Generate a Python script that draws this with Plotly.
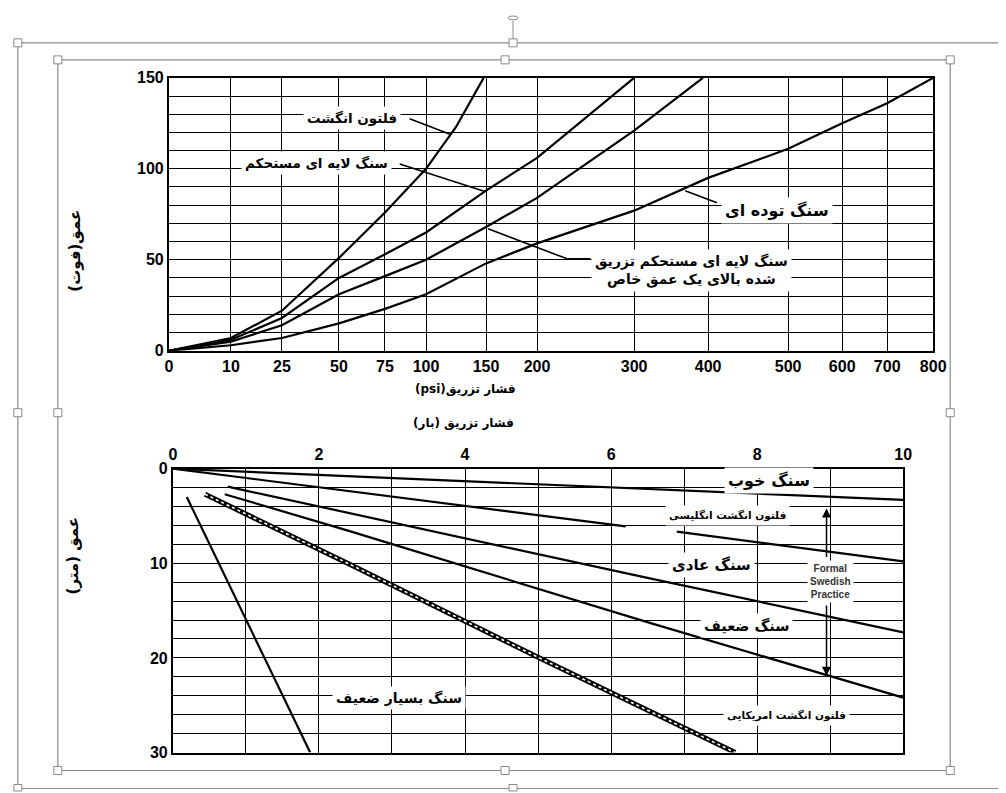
import numpy as np
import plotly.graph_objects as go

# figure size (the page adds an 8px body margin)
W, H = 1006, 792
OFF = 8
# measured mapping between page pixels and the photographed picture
SX, BX = 0.9827, 4.3
SY, BY = 0.979, 7.3

# ---------------- Top chart: depth (ft) vs injection pressure (psi) ----------------
# printed (non-uniform) pressure scale of the scanned chart
psi_ticks = [0, 10, 25, 50, 75, 100, 150, 200, 300, 400, 500, 600, 700, 800]
psi_tick_pos = [0, 62, 113, 170, 216, 257, 317, 368, 465, 539, 619, 673, 718, 764]

fenton_psi = [0, 10, 25, 50, 75, 100, 125, 148]
fenton_ft = [0, 7, 22, 51, 76, 100, 123, 150]

strat_psi = [0, 10, 25, 50, 75, 100, 150, 200, 300]
strat_ft = [0, 6, 18, 40, 53, 65, 88, 106, 150]

grouted_psi = [0, 10, 25, 50, 75, 100, 150, 200, 300, 393]
grouted_ft = [0, 5, 14, 31, 41, 50, 68, 84, 121, 150]

massive_psi = [0, 10, 25, 50, 75, 100, 150, 200, 300, 400, 500, 600, 700, 800]
massive_ft = [0, 3, 7, 15, 23, 31, 48, 59, 77, 95, 111, 125, 136, 150]

# ---------------- Bottom chart: depth (m) vs injection pressure (bar) ----------------
good_bar = [0, 10]
good_m = [0, 3.3]
fen_en_bar = [0, 6.2, None, 6.9, 10]
fen_en_m = [0, 6.1, None, 6.65, 9.8]
avg_bar = [0.75, 2.42, 6.53, 10]
avg_m = [1.9, 4.7, 11.6, 17.3]
poor_bar = [0.71, 2.42, 6.53, 10]
poor_m = [2.7, 6.6, 16.3, 24.2]
fen_us_bar = [0.44, 2.42, 5.07, 7.7]
fen_us_m = [2.7, 10.1, 20.2, 30]
vpoor_bar = [0.19, 1.88]
vpoor_m = [3.0, 30]


def to_pos(psi):
    return np.interp(psi, psi_ticks, psi_tick_pos)


FA = "DejaVu Sans"
FN = "Liberation Sans Narrow, Liberation Sans, Arial"
RLE, PDF = "\u202b", "\u202c"

fig = go.Figure()

line_style = dict(color="black", width=2.2)
for xs, ys in [(fenton_psi, fenton_ft), (strat_psi, strat_ft),
               (grouted_psi, grouted_ft), (massive_psi, massive_ft)]:
    fig.add_trace(go.Scatter(x=to_pos(xs), y=ys, mode="lines", line=line_style,
                             xaxis="x", yaxis="y", showlegend=False, hoverinfo="skip"))

for xs, ys in [(good_bar, good_m), (fen_en_bar, fen_en_m), (avg_bar, avg_m),
               (poor_bar, poor_m), (vpoor_bar, vpoor_m)]:
    fig.add_trace(go.Scatter(x=xs, y=ys, mode="lines", line=line_style,
                             xaxis="x2", yaxis="y2", showlegend=False, hoverinfo="skip"))
# hatched American Fenton line
fig.add_trace(go.Scatter(x=fen_us_bar, y=fen_us_m, mode="lines",
                         line=dict(color="black", width=5), xaxis="x2", yaxis="y2",
                         showlegend=False, hoverinfo="skip"))
fig.add_trace(go.Scatter(x=fen_us_bar, y=fen_us_m, mode="lines",
                         line=dict(color="white", width=1.6, dash="dot"), xaxis="x2", yaxis="y2",
                         showlegend=False, hoverinfo="skip"))

grid = dict(showgrid=True, gridcolor="black", gridwidth=1.2, zeroline=False,
            showline=True, linecolor="black", linewidth=2, mirror=True, ticks="")
tickfont = dict(family=FN, size=16, color="black", weight="bold")


def px(t):
    return min(max(((t - BX) / SX - OFF) / W, 0), 1)


def py(t):
    return min(max(1 - ((t - BY) / SY - OFF) / H, 0), 1)


fig.update_layout(
    width=W, height=H, margin=dict(l=0, r=0, t=0, b=0),
    paper_bgcolor="white", plot_bgcolor="white",
    xaxis=dict(domain=[px(169), px(933)], range=[0, 764], anchor="y",
               tickvals=psi_tick_pos, ticktext=[str(t) for t in psi_ticks],
               tickfont=tickfont, **grid),
    yaxis=dict(domain=[py(350), py(77)], range=[0, 150], anchor="x",
               tickvals=[0, 50, 100, 150], tickfont=tickfont,
               minor=dict(dtick=10, showgrid=True, gridcolor="black", gridwidth=1.2),
               **grid),
    xaxis2=dict(domain=[px(173), px(903)], range=[0, 10], anchor="y2", side="top",
                dtick=2, tickfont=tickfont,
                minor=dict(dtick=1, showgrid=True, gridcolor="black", gridwidth=1.2),
                **grid),
    yaxis2=dict(domain=[py(752), py(468)], range=[30, 0], anchor="x2",
                dtick=10, tickfont=tickfont,
                minor=dict(dtick=2, showgrid=True, gridcolor="black", gridwidth=1.2),
                **grid),
)

ann = []
shapes = []


def txt(text, x, y, size=13, xref="x", yref="y", bg="white", **kw):
    ann.append(dict(text=text, x=x, y=y, xref=xref, yref=yref, showarrow=False,
                    font=dict(family=FA, size=size, color="black", weight="bold"),
                    bgcolor=bg, borderpad=3, **kw))


def seg(x0, y0, x1, y1, xref="x", yref="y", color="black", width=1.6):
    shapes.append(dict(type="line", x0=x0, y0=y0, x1=x1, y1=y1, xref=xref, yref=yref,
                       line=dict(color=color, width=width), layer="above"))


# top chart labels and leaders
txt("فلتون انگشت", float(to_pos(57)), 128, size=13.5)
seg(float(to_pos(90)), 127.5, float(to_pos(120)), 119)
txt("سنگ لایه ای مستحکم", float(to_pos(40)), 103, size=13.5)
seg(float(to_pos(84)), 102.7, float(to_pos(149)), 87.5)
txt("سنگ توده ای", float(to_pos(486)), 77, size=16)
seg(float(to_pos(411)), 81.3, float(to_pos(369)), 88)
txt("سنگ لایه ای مستحکم تزریق<br>شده بالای یک عمق خاص", float(to_pos(378)), 44, size=14)
seg(float(to_pos(152)), 67, float(to_pos(231)), 50.5)
seg(float(to_pos(231)), 50.5, float(to_pos(255)), 50.5)

# bottom chart labels
txt("سنگ خوب", 8.16, 1.3, size=16, xref="x2", yref="y2")
txt("فلتون انگشت انگلیسی", 7.59, 4.96, size=10.5, xref="x2", yref="y2")
txt("سنگ عادی", 7.38, 10.2, size=15, xref="x2", yref="y2")
txt("سنگ ضعیف", 7.86, 16.6, size=14.5, xref="x2", yref="y2")
txt("فلتون انگشت امریکایی", 8.4, 26.1, size=10.5, xref="x2", yref="y2")
txt("سنگ بسیار ضعیف", 3.1, 24.2, size=14, xref="x2", yref="y2")
ann.append(dict(text="Formal<br>Swedish<br>Practice", x=9.0, y=11.9, xref="x2", yref="y2",
                showarrow=False, bgcolor="white", borderpad=2,
                font=dict(family="Liberation Sans", size=10, color="#333", weight="bold")))
for y0, y1 in [(9.5, 4.2), (14.3, 21.9)]:
    ann.append(dict(x=8.95, y=y1, ax=8.95, ay=y0, xref="x2", yref="y2", axref="x2", ayref="y2",
                    showarrow=True, arrowhead=2, arrowsize=1.2, arrowwidth=1.5,
                    arrowcolor="black", text=""))

# axis titles
txt(RLE + "فشار تزریق(psi)" + PDF, px(465), py(388), size=12, xref="paper", yref="paper", bg=None)
txt(RLE + "فشار تزریق (بار)" + PDF, px(463), py(422), size=12, xref="paper", yref="paper", bg=None)
txt(RLE + "عمق(فوت)" + PDF, px(62), py(205), size=15, xref="paper", yref="paper", bg=None,
    textangle=-90)
txt(RLE + "عمق (متر)" + PDF, px(60), py(598), size=15, xref="paper", yref="paper", bg=None,
    textangle=-90)

# selection frames of the document editor
gray = "#8a8a8a"
for (l, t, r, b) in [(18, 42, 1003, 788), (58, 59, 950, 770)]:
    shapes.append(dict(type="rect", x0=px(l), x1=min(px(r), 0.999), y0=py(b), y1=py(t),
                       xref="paper", yref="paper", line=dict(color=gray, width=1.2),
                       layer="below"))
handles = [(18, 42), (513, 42), (1003, 42), (18, 412), (1003, 412), (18, 788), (513, 788),
           (58, 59), (505, 59), (950, 59), (58, 412), (950, 412), (58, 770), (505, 770), (950, 770)]
for hx, hy in handles:
    shapes.append(dict(type="rect", x0=px(hx - 4), x1=px(hx + 4), y0=py(hy + 4), y1=py(hy - 4),
                       xref="paper", yref="paper", fillcolor="white",
                       line=dict(color=gray, width=1), layer="above"))
shapes.append(dict(type="line", x0=px(513), x1=px(513), y0=py(38), y1=py(20), xref="paper",
                   yref="paper", line=dict(color=gray, width=1)))
shapes.append(dict(type="circle", x0=px(508), x1=px(518), y0=py(19), y1=py(9), xref="paper",
                   yref="paper", line=dict(color=gray, width=1)))

fig.update_layout(annotations=ann, shapes=shapes)
fig.write_html("out.html")
